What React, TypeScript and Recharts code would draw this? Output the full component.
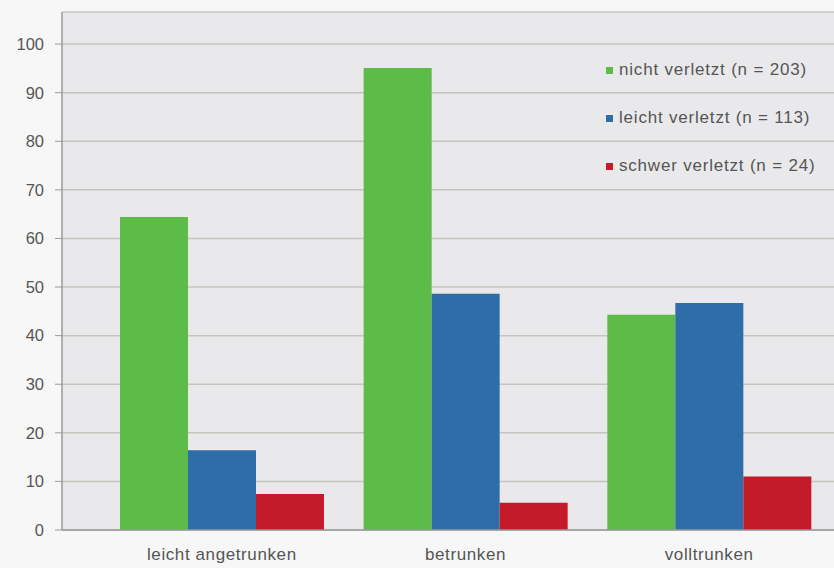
import { BarChart, Bar, XAxis, YAxis, CartesianGrid } from "recharts";

const categories = ["leicht angetrunken", "betrunken", "volltrunken"];
const nichtVerletzt = [64.4, 95.1, 44.3];
const leichtVerletzt = [16.4, 48.6, 46.7];
const schwerVerletzt = [7.4, 5.6, 11.0];
const yTicks = [0, 10, 20, 30, 40, 50, 60, 70, 80, 90, 100];

const seriesInfo = [
    { key: "nicht", label: "nicht verletzt (n = 203)", color: "#5dbb47" },
    { key: "leicht", label: "leicht verletzt (n = 113)", color: "#2f6da8" },
    { key: "schwer", label: "schwer verletzt (n = 24)", color: "#c41b2b" },
];

const data = categories.map((name, i) => ({
    name,
    nicht: nichtVerletzt[i],
    leicht: leichtVerletzt[i],
    schwer: schwerVerletzt[i],
}));

const font = "'Liberation Sans', Arial, sans-serif";

// legend sits inside the plot, on top of the gridlines
function LegendBox() {
    return (
        <div
            style={{
                position: "absolute",
                left: 606,
                top: 46,
                fontFamily: font,
                fontSize: 17,
                letterSpacing: 0.8,
                color: "#555",
            }}
        >
            {seriesInfo.map((s) => (
                <div
                    key={s.key}
                    style={{ height: 48, display: "flex", alignItems: "center" }}
                >
                    <span
                        style={{
                            width: 7,
                            height: 7,
                            background: s.color,
                            display: "inline-block",
                            marginRight: 6,
                        }}
                    />
                    {s.label}
                </div>
            ))}
        </div>
    );
}

export default function App() {
    return (
        <div style={{ position: "absolute", left: 0, top: 0, width: 834, height: 568, background: "#f7f7f7" }}>
            <BarChart
                width={834}
                height={568}
                data={data}
                margin={{ top: 12, right: 0, left: 0, bottom: 0 }}
                barCategoryGap={20}
                barGap={0}
            >
                <CartesianGrid
                    vertical={false}
                    fill="#e9e9eb"
                    stroke="#c8c3bf"
                    strokeWidth={1.5}
                />
                <XAxis
                    dataKey="name"
                    height={38}
                    padding={{ left: 38, right: 3 }}
                    tickLine={false}
                    tickSize={0}
                    tickMargin={18}
                    axisLine={{ stroke: "#9a9a9a", strokeWidth: 1.5 }}
                    tick={{
                        fill: "#555",
                        fontSize: 17,
                        letterSpacing: 0.6,
                        fontFamily: font,
                    }}
                />
                <YAxis
                    width={62}
                    domain={[0, 106.6]}
                    ticks={yTicks}
                    interval={0}
                    tickSize={7}
                    tickMargin={11}
                    allowDataOverflow
                    axisLine={{ stroke: "#9a9a9a", strokeWidth: 1.5 }}
                    tickLine={{ stroke: "#9a9a9a" }}
                    tick={{ fill: "#555", fontSize: 16.5, fontFamily: font }}
                />
                {seriesInfo.map((s) => (
                    <Bar
                        key={s.key}
                        dataKey={s.key}
                        name={s.label}
                        fill={s.color}
                        isAnimationActive={false}
                    />
                ))}
            </BarChart>
            <LegendBox />
        </div>
    );
}
